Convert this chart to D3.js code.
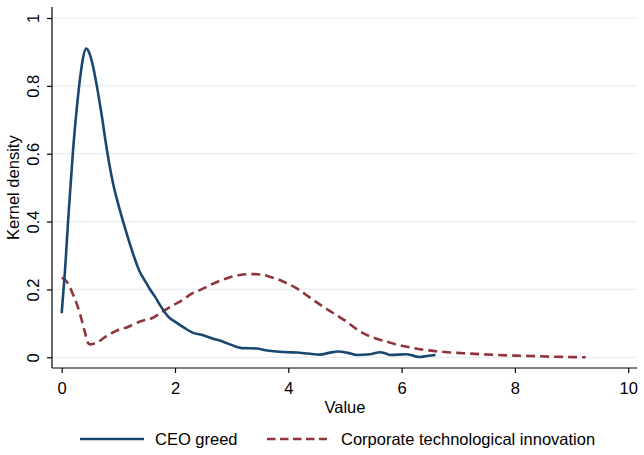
<!DOCTYPE html>
<html>
<head>
<meta charset="utf-8">
<script src="https://cdn.jsdelivr.net/npm/d3@7"></script>
<style>
  body { margin: 0; background: #fff; }
  text { font-family: "Liberation Sans", Arial, sans-serif; fill: #000; }
</style>
</head>
<body>
<svg id="chart"></svg>
<script>
// kernel density estimates
const greedX = [0, 0.06, 0.12, 0.2, 0.27, 0.33, 0.38, 0.43, 0.48, 0.55, 0.62, 0.7, 0.79, 0.84, 0.91, 1.0,
    1.12, 1.24, 1.37, 1.47, 1.56, 1.65, 1.75, 1.88, 2.0, 2.18, 2.32, 2.5, 2.65, 2.85, 3.0, 3.18, 3.44,
    3.6, 3.74, 4.0, 4.15, 4.35, 4.56, 4.72, 4.88, 5.05, 5.21, 5.44, 5.62, 5.72, 5.8, 6.09, 6.2, 6.32, 6.45, 6.6];
const greedY = [0.13, 0.26, 0.42, 0.61, 0.74, 0.83, 0.885, 0.91, 0.9, 0.86, 0.80, 0.72, 0.62, 0.57, 0.51, 0.45,
    0.38, 0.315, 0.255, 0.225, 0.2, 0.178, 0.15, 0.12, 0.105, 0.085, 0.072, 0.065, 0.056, 0.046, 0.036, 0.027, 0.026,
    0.021, 0.018, 0.015, 0.014, 0.011, 0.008, 0.013, 0.017, 0.013, 0.007, 0.009, 0.015, 0.011, 0.007, 0.009, 0.005, 0.001, 0.004, 0.007];

const innovX = [0, 0.06, 0.12, 0.2, 0.32, 0.4, 0.47, 0.5, 0.58, 0.65, 0.75, 0.82, 0.95, 1.06, 1.15, 1.24, 1.41,
    1.59, 1.7, 1.82, 1.95, 2.18, 2.26, 2.44, 2.62, 2.8, 2.97, 3.12, 3.27, 3.42, 3.56, 3.7, 3.85, 4.0, 4.15, 4.3,
    4.44, 4.58, 4.71, 4.87, 5.03, 5.17, 5.32, 5.5, 5.74, 5.9, 6.09, 6.25, 6.44, 6.6, 6.8, 7.09, 7.4, 7.68, 8.0,
    8.27, 8.6, 8.9, 9.25];
const innovY = [0.235, 0.228, 0.215, 0.185, 0.13, 0.08, 0.041, 0.038, 0.041, 0.046, 0.058, 0.066, 0.077, 0.085,
    0.088, 0.095, 0.107, 0.115, 0.126, 0.139, 0.152, 0.174, 0.184, 0.198, 0.213, 0.226, 0.236, 0.242, 0.245, 0.245,
    0.243, 0.236, 0.228, 0.216, 0.203, 0.186, 0.169, 0.153, 0.139, 0.122, 0.105, 0.087, 0.071, 0.058, 0.046, 0.038,
    0.031, 0.026, 0.021, 0.018, 0.015, 0.012, 0.009, 0.007, 0.005, 0.004, 0.002, 0.001, 0];

const xTicks = [0, 2, 4, 6, 8, 10];
const yTicks = [0, 0.2, 0.4, 0.6, 0.8, 1];
const seriesNames = ["CEO greed", "Corporate technological innovation"];

const width = 644, height = 455;
const plot = { left: 52, right: 637, top: 7, bottom: 368 };
const blue = "#1a476f", red = "#90353b";

const svg = d3.select("#chart").attr("width", width).attr("height", height);

const x = d3.scaleLinear().domain([0, 10]).range([61.7, 628.2]);
const y = d3.scaleLinear().domain([0, 1]).range([357.3, 18]);

// grid lines
svg.append("g")
    .selectAll("line")
    .data(yTicks)
    .join("line")
    .attr("x1", plot.left)
    .attr("x2", plot.right)
    .attr("y1", d => y(d))
    .attr("y2", d => y(d))
    .attr("stroke", "#e6eef1")
    .attr("stroke-width", 1.2);

// axes
const yAxis = svg.append("g")
    .attr("transform", `translate(${plot.left},0)`)
    .call(d3.axisLeft(y).tickValues(yTicks).tickFormat(d3.format("~g")).tickSize(5).tickPadding(0));
yAxis.select(".domain").attr("d", `M0,${plot.top}V${plot.bottom}`).attr("stroke", "#000").attr("stroke-width", 1.2);
yAxis.selectAll(".tick line").attr("stroke", "#000").attr("stroke-width", 1.2);
yAxis.selectAll(".tick text")
    .attr("font-size", 16.5)
    .attr("text-anchor", "middle")
    .attr("x", null).attr("dy", null)
    .attr("transform", "translate(-13.5,0) rotate(-90)");

const xAxis = svg.append("g")
    .attr("transform", `translate(0,${plot.bottom})`)
    .call(d3.axisBottom(x).tickValues(xTicks).tickSize(5).tickPadding(0));
xAxis.select(".domain").attr("d", `M${plot.left},0H${plot.right}`).attr("stroke", "#000").attr("stroke-width", 1.2);
xAxis.selectAll(".tick line").attr("stroke", "#000").attr("stroke-width", 1.2);
xAxis.selectAll(".tick text")
    .attr("font-size", 16.5)
    .attr("dy", null)
    .attr("y", 26);

svg.selectAll("text").attr("font-family", null);

// axis titles
svg.append("text")
    .attr("x", (x(0) + x(10)) / 2)
    .attr("y", 413)
    .attr("text-anchor", "middle")
    .attr("font-size", 16.5)
    .text("Value");

svg.append("text")
    .attr("transform", `translate(19,${(y(0) + y(1)) / 2}) rotate(-90)`)
    .attr("text-anchor", "middle")
    .attr("font-size", 16.5)
    .text("Kernel density");

// density lines
const line = d3.line()
    .x(d => x(d[0]))
    .y(d => y(d[1]))
    .curve(d3.curveMonotoneX);

svg.append("path")
    .datum(d3.zip(innovX, innovY))
    .attr("d", line)
    .attr("fill", "none")
    .attr("stroke", red)
    .attr("stroke-width", 2.6)
    .attr("stroke-dasharray", "9,5");

svg.append("path")
    .datum(d3.zip(greedX, greedY))
    .attr("d", line)
    .attr("fill", "none")
    .attr("stroke", blue)
    .attr("stroke-width", 2.6)
    .attr("stroke-linejoin", "round");

// legend
const legend = [
    { name: seriesNames[0], color: blue, dash: null, x0: 80, x1: 144, tx: 155 },
    { name: seriesNames[1], color: red, dash: "8.5,4.5", x0: 267, x1: 327, tx: 341 }
];
const lg = svg.append("g");
lg.selectAll("line")
    .data(legend)
    .join("line")
    .attr("x1", d => d.x0)
    .attr("x2", d => d.x1)
    .attr("y1", 439)
    .attr("y2", 439)
    .attr("stroke", d => d.color)
    .attr("stroke-width", 2.6)
    .attr("stroke-dasharray", d => d.dash);
lg.selectAll("text")
    .data(legend)
    .join("text")
    .attr("x", d => d.tx)
    .attr("y", 445)
    .attr("font-size", 16.5)
    .text(d => d.name);
</script>
</body>
</html>
